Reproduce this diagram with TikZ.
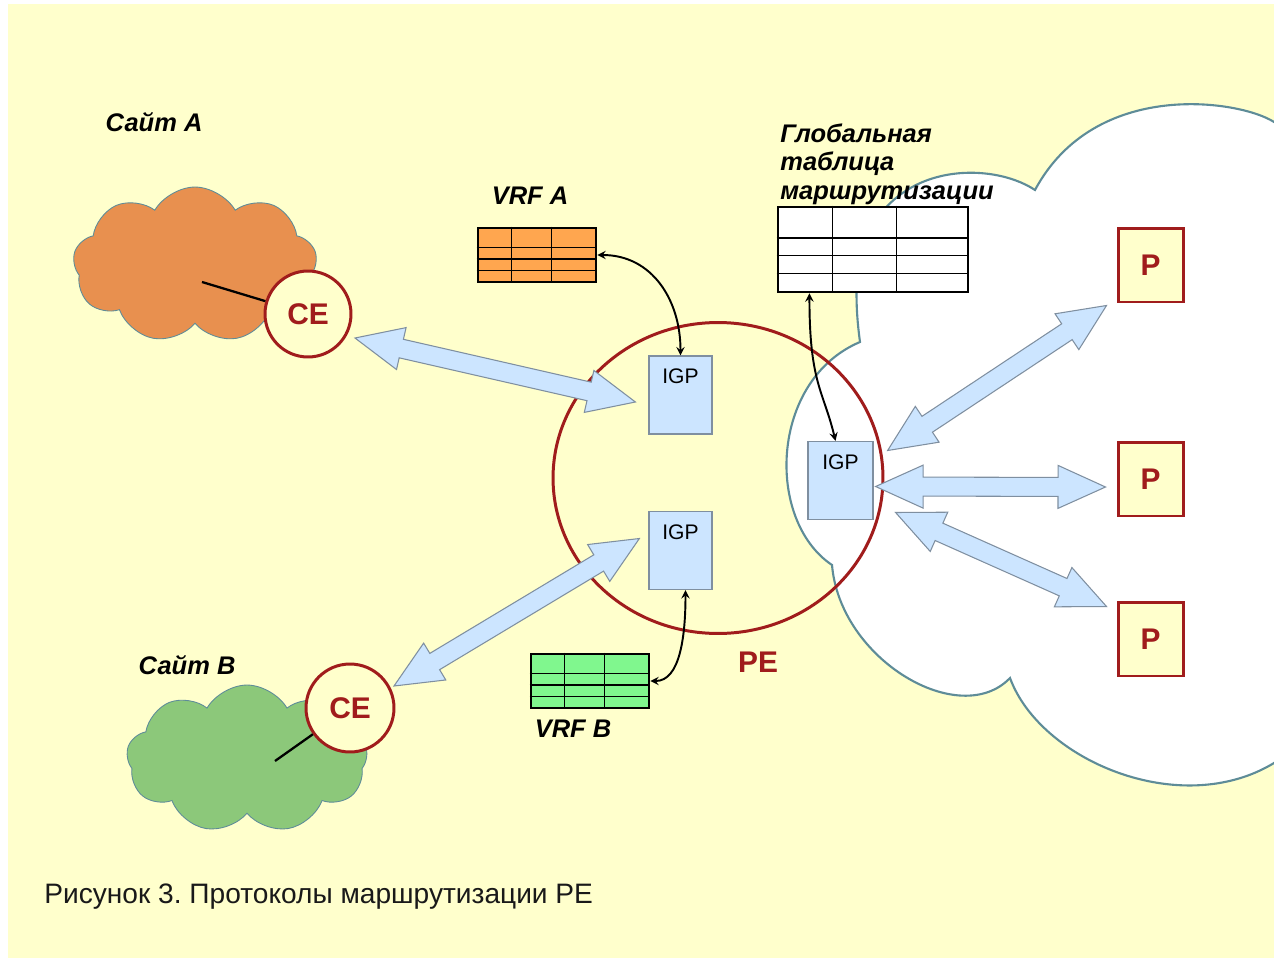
\documentclass[tikz,border=0pt]{standalone}
\usepackage{fontspec}
\setmainfont{Liberation Sans}
\usepackage{tikz}
\usetikzlibrary{arrows,calc,positioning}
\usetikzlibrary{shapes.geometric,shapes.symbols}
\frenchspacing

\definecolor{paper}{HTML}{FFFFCC}
\definecolor{pered}{HTML}{A01C1C}
\definecolor{skyfill}{HTML}{CCE5FF}
\definecolor{skyline}{HTML}{7F8FA0}
\definecolor{cloudline}{HTML}{5E8C98}
\definecolor{siteorange}{HTML}{E8904F}
\definecolor{sitegreen}{HTML}{8CC87A}
\definecolor{vrforange}{HTML}{FFA64F}
\definecolor{vrfgreen}{HTML}{80F78E}

\tikzstyle{site}=[cloud, cloud puffs=9, cloud puff arc=120, aspect=1.6, draw=cloudline, line width=0.5pt]
\tikzstyle{cebox}=[circle, draw=pered, line width=1.7pt, fill=paper, minimum size=1.72cm, inner sep=0pt, text=pered, font=\fontsize{17}{20}\selectfont\bfseries]
\tikzstyle{pbox}=[rectangle, draw=pered, line width=1.7pt, fill=paper, minimum width=1.3cm, minimum height=1.48cm, text=pered, font=\fontsize{17}{20}\selectfont\bfseries]
\tikzstyle{igpbox}=[rectangle, draw=skyline, line width=0.7pt, fill=skyfill, minimum width=1.26cm, minimum height=1.56cm]
\tikzstyle{igptext}=[inner sep=0pt, font=\fontsize{12}{14}\selectfont]
\tikzstyle{tablebox}=[rectangle, draw=black, line width=1.5pt, minimum width=2.36cm, minimum height=1.08cm]
\tikzstyle{lbl}=[inner sep=0pt, font=\fontsize{14.5}{16.4}\selectfont\bfseries\itshape]
\tikzstyle{bigarrow}=[fill=skyfill, draw=skyline, line width=0.6pt, line join=miter]
\tikzstyle{tiparrow}=[<->, >=stealth, line width=1.1pt]

% grid of a routing table node
\newcommand{\tablegrid}[1]{
	\foreach \f in {0.29,0.62}
		\draw[line width=0.7pt] ($(#1.north west)!\f!(#1.north east)$) -- ($(#1.south west)!\f!(#1.south east)$);
	\foreach \f in {0.37,0.57,0.77}
		\draw[line width=0.7pt] ($(#1.north west)!\f!(#1.south west)$) -- ($(#1.north east)!\f!(#1.south east)$);
}
% wide two-headed arrow between two coordinates
\newcommand{\dblarrow}[2]{
	\draw[bigarrow] (#1)
		-- ($(#1)!0.95cm!(#2)!0.43cm!90:(#2)$)
		-- ($(#1)!0.95cm!(#2)!0.19cm!90:(#2)$)
		-- ($(#2)!0.95cm!(#1)!0.19cm!-90:(#1)$)
		-- ($(#2)!0.95cm!(#1)!0.43cm!-90:(#1)$)
		-- (#2)
		-- ($(#2)!0.95cm!(#1)!0.43cm!90:(#1)$)
		-- ($(#2)!0.95cm!(#1)!0.19cm!90:(#1)$)
		-- ($(#1)!0.95cm!(#2)!0.19cm!-90:(#2)$)
		-- ($(#1)!0.95cm!(#2)!0.43cm!-90:(#2)$)
		-- cycle;
}

\begin{document}
\begin{tikzpicture}[x=0.02cm,y=-0.02cm]
	\useasboundingbox (0,0) rectangle (1274,960);
	\fill[white] (0,0) rectangle (1274,960);
	\fill[paper] (8,4) rectangle (1274,958);

	% provider network
	\draw[fill=white, draw=cloudline, line width=1.2pt] (1300,130) -- (1274,122)
		.. controls (1240,100) and (1095,78) .. (1035,190)
		.. controls (990,160) and (880,160) .. (858,265)
		.. controls (855,295) and (857,320) .. (860,342)
		.. controls (770,380) and (765,520) .. (832,565)
		.. controls (840,660) and (960,730) .. (1010,678)
		.. controls (1040,760) and (1180,820) .. (1274,763)
		-- (1300,740) -- cycle;

	% customer sites
	\node[site, fill=siteorange, minimum width=4.88cm, minimum height=3.12cm] (siteA) at (195,265) {};
	\node[site, fill=sitegreen, minimum width=4.82cm, minimum height=2.96cm] (siteB) at (247,759) {};
	\node[cebox] (ceA) at (308,314) {CE};
	\node[cebox, minimum size=1.76cm] (ceB) at (350,708) {CE};
	\coordinate (hostA) at (202,282);
	\coordinate (hostB) at (275,761);
	\draw[line width=1.3pt] (hostA) -- (ceA);
	\draw[line width=1.3pt] (hostB) -- (ceB);

	% PE router
	\node[ellipse, draw=pered, line width=1.7pt, minimum width=6.6cm, minimum height=6.22cm] (pe) at (718,478) {};
	\node[text=pered, font=\fontsize{17}{20}\selectfont\bfseries] (pelbl) at (758,662) {PE};

	% routing tables
	\node[tablebox, fill=vrforange] (vrfA) at (537,255) {};
	\tablegrid{vrfA}
	\node[tablebox, fill=vrfgreen] (vrfB) at (590,681) {};
	\tablegrid{vrfB}
	\node[tablebox, fill=white, minimum width=3.8cm, minimum height=1.7cm] (gtab) at (873,249.5) {};
	\tablegrid{gtab}

	% IGP instances
	\node[igpbox] (igpA) at (680.5,395) {};
	\node[igptext, below=0.27cm of igpA.north] {IGP};
	\node[igpbox] (igpB) at (680.5,550.5) {};
	\node[igptext, below=0.27cm of igpB.north] {IGP};
	\node[igpbox, minimum width=1.3cm] (igpC) at (840.5,480.5) {};
	\node[igptext, below=0.27cm of igpC.north] {IGP};

	% P routers
	\node[pbox] (p1) at (1150.5,265) {P};
	\node[pbox] (p2) at (1150.5,479) {P};
	\node[pbox] (p3) at (1150.5,639) {P};

	% routing exchange
	\coordinate (ceAtip) at ($(ceA)+(47,24)$);
	\coordinate (igpAtip) at ($(igpA.west)+(-13,7)$);
	\coordinate (ceBtip) at ($(ceB)+(44,-22)$);
	\coordinate (igpBtip) at ($(igpB.west)+(-9,-12)$);
	\coordinate (igpCa) at ($(igpC.east)+(14,-30)$);
	\coordinate (igpCb) at ($(igpC.east)+(2,6)$);
	\coordinate (igpCc) at ($(igpC.east)+(22,32)$);
	\coordinate (p1tip) at ($(p1.south west)+(-10,2)$);
	\coordinate (p2tip) at ($(p2.west)+(-11,8)$);
	\coordinate (p3tip) at ($(p3.north west)+(-10,6)$);
	\dblarrow{ceAtip}{igpAtip}
	\dblarrow{ceBtip}{igpBtip}
	\dblarrow{igpCa}{p1tip}
	\dblarrow{igpCb}{p2tip}
	\dblarrow{igpCc}{p3tip}

	% table lookups
	\draw[tiparrow] (vrfA.east) .. controls +(55,0) and +(0,-55) .. (igpA.north);
	\draw[tiparrow] (vrfB.east) .. controls +(30,0) and +(0,45) .. ([xshift=0.1cm]igpB.south);
	\draw[tiparrow] ($(gtab.south west)!0.17!(gtab.south east)$) .. controls +(0,90) and +(-12,-50) .. ([xshift=-0.1cm]igpC.north);

	% labels
	\node[lbl] (siteAlbl) at (154,122) {Сайт A};
	\node[lbl] (siteBlbl) at (187,665) {Сайт B};
	\node[lbl] (vrfAlbl) at (530,196) {VRF A};
	\node[lbl] (vrfBlbl) at (573,729) {VRF B};
	\node[lbl, align=left, anchor=north west] (gtablbl) at (780,123) {Глобальная\\таблица\\маршрутизации};
	\node[anchor=west, inner sep=0pt, text=black!90, font=\fontsize{16}{19}\selectfont] (caption) at (44,897) {Рисунок 3. Протоколы маршрутизации РЕ};
\end{tikzpicture}
\end{document}
